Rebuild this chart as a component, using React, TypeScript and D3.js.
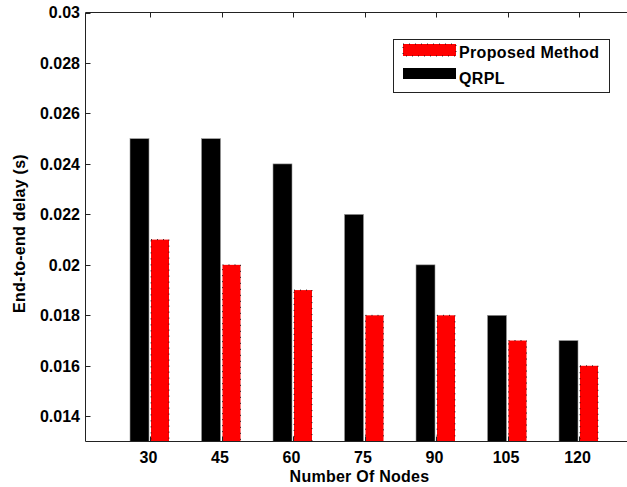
import React from "react";
import * as d3 from "d3";

const categories = ["30", "45", "60", "75", "90", "105", "120"];
const proposed = [0.021, 0.02, 0.019, 0.018, 0.018, 0.017, 0.016];
const qrpl = [0.025, 0.025, 0.024, 0.022, 0.02, 0.018, 0.017];
const yTicks = [0.014, 0.016, 0.018, 0.02, 0.022, 0.024, 0.026, 0.028, 0.03];
const yTickLabels = ["0.014", "0.016", "0.018", "0.02", "0.022", "0.024", "0.026", "0.028", "0.03"];
const legendLabels = ["Proposed Method", "QRPL"];

const W = 627;
const H = 487;
const FONT = "'Liberation Sans', Arial, Helvetica, sans-serif";

export default function App() {
  const left = 85.5;
  const top = 12.5;
  const bottom = 441.5;
  const right = 640;
  const y = d3.scaleLinear().domain([0.013, 0.03]).range([bottom, top]);
  const x = d3.scaleLinear().domain([0, 6]).range([150, 579]);
  const axisColor = "#222";

  return (
    <svg
      width={W}
      height={H}
      style={{ position: "fixed", left: 0, top: 0, background: "#fff" }}
      fontFamily={FONT}
      fontWeight="bold"
    >
      <rect x={0} y={0} width={W} height={H} fill="#fff" />
      {/* bars */}
      {categories.map((c, i) => {
        const cx = x(i);
        return (
          <g key={c}>
            <rect
              x={cx - 20}
              y={y(qrpl[i])}
              width={19}
              height={bottom - y(qrpl[i])}
              fill="#000"
              stroke="#999"
              strokeWidth={0.6}
            />
            <rect
              x={cx + 1}
              y={y(proposed[i])}
              width={18}
              height={bottom - y(proposed[i])}
              fill="#ff0000"
              stroke="#000"
              strokeWidth={0.8}
              strokeDasharray="1,5"
            />
          </g>
        );
      })}
      {/* axes lines */}
      <line x1={left} y1={top} x2={right} y2={top} stroke={axisColor} strokeWidth={1} />
      <line x1={left} y1={bottom} x2={right} y2={bottom} stroke={axisColor} strokeWidth={1} />
      <line x1={left} y1={top} x2={left} y2={bottom} stroke={axisColor} strokeWidth={1} />
      {/* y ticks */}
      {yTicks.map((t, i) => (
        <g key={t}>
          <line x1={left} x2={left + 5} y1={Math.round(y(t)) + 0.5} y2={Math.round(y(t)) + 0.5} stroke={axisColor} />
          <text x={80} y={y(t) + 5.8} textAnchor="end" fontSize={16} fill="#000">
            {yTickLabels[i]}
          </text>
        </g>
      ))}
      {/* x ticks */}
      {categories.map((c, i) => (
        <g key={c}>
          <line x1={Math.round(x(i)) + 0.5} x2={Math.round(x(i)) + 0.5} y1={bottom} y2={bottom - 5} stroke={axisColor} />
          <line x1={Math.round(x(i)) + 0.5} x2={Math.round(x(i)) + 0.5} y1={top} y2={top + 5} stroke={axisColor} />
          <text x={x(i) - 1.5} y={462.5} textAnchor="middle" fontSize={16} fill="#000">
            {c}
          </text>
        </g>
      ))}
      {/* axis labels */}
      <text x={359.5} y={481.5} textAnchor="middle" fontSize={16} letterSpacing={0.25} fill="#000">
        Number Of Nodes
      </text>
      <text
        transform={`translate(25,233.5) rotate(-90)`}
        textAnchor="middle"
        fontSize={16}
        letterSpacing={0.25}
        fill="#000"
      >
        End-to-end delay (s)
      </text>
      {/* legend */}
      <rect x={393.5} y={39.5} width={216} height={53} fill="#fff" stroke={axisColor} strokeWidth={1} />
      <rect x={403} y={44} width={53} height={12} fill="#ff0000" stroke="#000" strokeWidth={0.8} strokeDasharray="1,5" />
      <rect x={403} y={68} width={53} height={11} fill="#000" />
      <text x={459} y={57.5} fontSize={16} letterSpacing={0.35} fill="#000">
        {legendLabels[0]}
      </text>
      <text x={459} y={83.5} fontSize={16} letterSpacing={0.35} fill="#000">
        {legendLabels[1]}
      </text>
    </svg>
  );
}
